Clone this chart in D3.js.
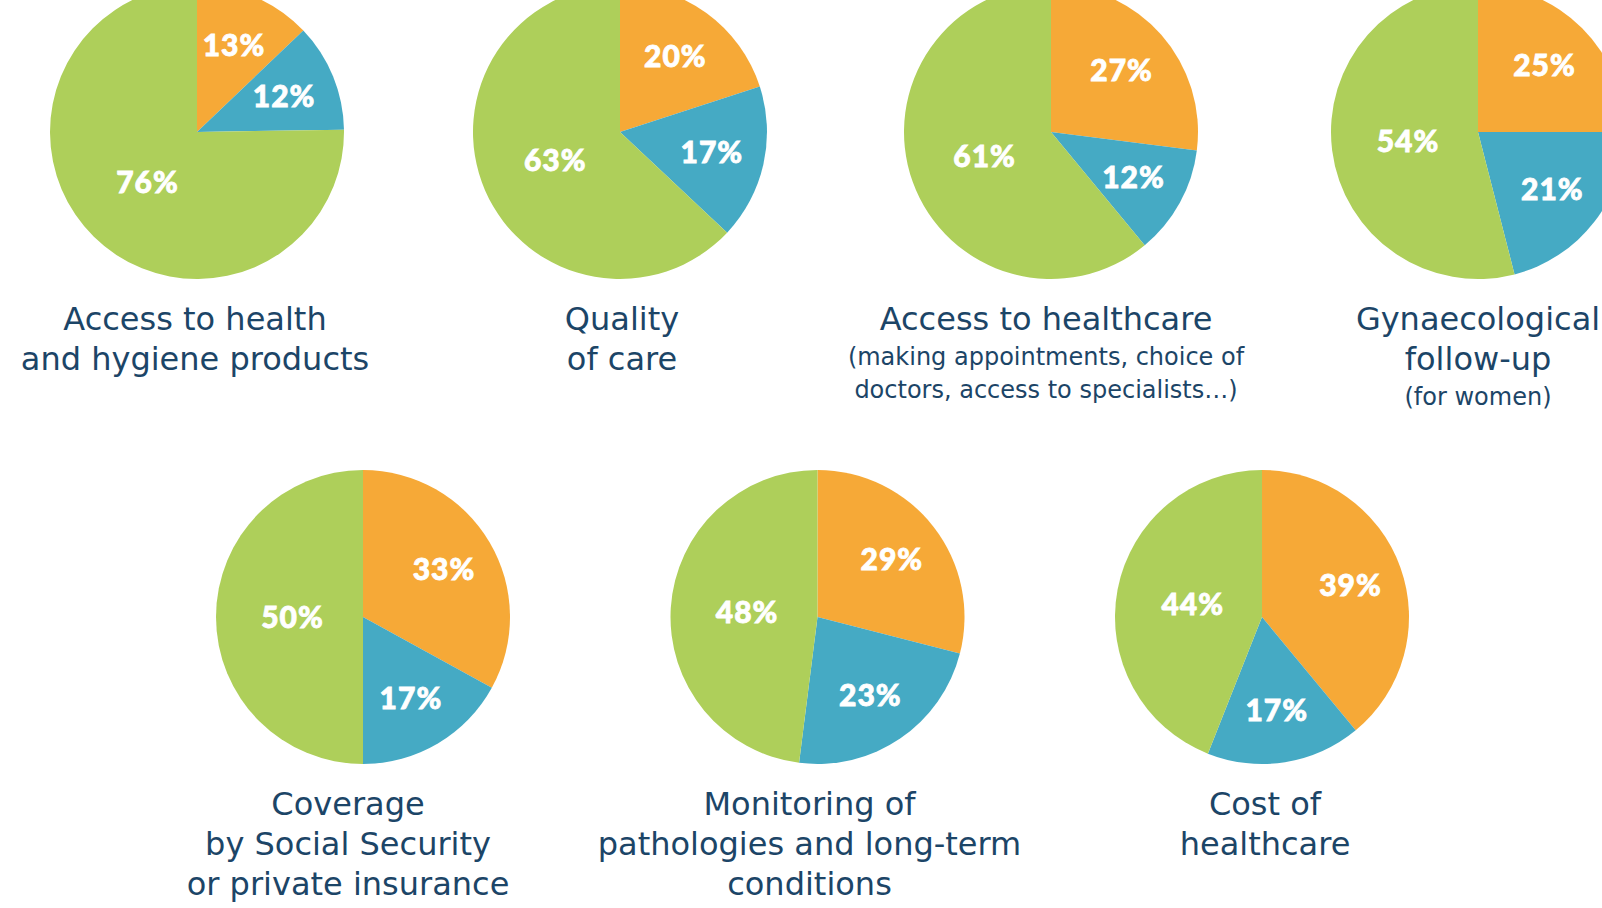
<html>
<head>
    <style>
        body { margin: 0; background: #fff; }
        .label { fill: #fff; stroke: #fff; stroke-width: 0.8px; font-family: Lato, sans-serif; font-weight: 900; font-size: 30px; letter-spacing: 1px; }
        .title { fill: #1c4567; font-family: "DejaVu Sans", sans-serif; font-size: 32px; }
        .sub   { fill: #1c4567; font-family: "DejaVu Sans", sans-serif; font-size: 24px; }
    </style>
    <script src="https://d3js.org/d3.v7.min.js"></script>
</head>
<body>
    <svg width="1602" height="908"></svg>

    <script>
        // data
        var titles = [
            ["Access to health", "and hygiene products"],
            ["Quality", "of care"],
            ["Access to healthcare"],
            ["Gynaecological", "follow-up"],
            ["Coverage", "by Social Security", "or private insurance"],
            ["Monitoring of", "pathologies and long-term", "conditions"],
            ["Cost of", "healthcare"]
        ];
        var subtitles = [
            [], [],
            ["(making appointments, choice of", "doctors, access to specialists…)"],
            ["(for women)"],
            [], [], []
        ];
        var orangeValues = [13, 20, 27, 25, 33, 29, 39];
        var blueValues   = [12, 17, 12, 21, 17, 23, 17];
        var greenValues  = [76, 63, 61, 54, 50, 48, 44];

        var colors = ["#f6a937", "#45aac4", "#aecf5a"];

        var svg = d3.select("svg");
        var r = 147;

        // layout: 4 pies on top row, 3 below
        var xTop = d3.scalePoint().domain([0, 1, 2, 3]).range([197, 1478]);
        var xBottom = d3.scalePoint().domain([4, 5, 6]).range([363, 1266]);
        var titleShift = [-2, 2, -5, 0, -15, -8, 3];
        var pieShift = [0, -4, 0, 0, 0, 3, -4];

        var pie = d3.pie().sort(null).value(function(d){ return d; });
        var arc = d3.arc().innerRadius(0).outerRadius(r);
        var arcSide = d3.arc().innerRadius(r * 0.64).outerRadius(r * 0.64);
        var arcMain = d3.arc().innerRadius(r * 0.48).outerRadius(r * 0.48);

        titles.forEach(function(t, i){
            var cx = (i < 4 ? xTop(i) : xBottom(i)) + pieShift[i];
            var cy = i < 4 ? 132 : 617;
            var vals = [orangeValues[i], blueValues[i], greenValues[i]];

            var g = svg.append("g").attr("transform", "translate(" + cx + "," + cy + ")");

            var slices = pie(vals);
            g.selectAll("path")
             .data(slices)
             .enter().append("path")
             .attr("d", arc)
             .attr("fill", function(d, j){ return colors[j]; });

            g.selectAll(".label")
             .data(slices)
             .enter().append("text")
             .attr("class", "label")
             .attr("transform", function(d, j){
                 var c = (j == 2 ? arcMain : arcSide).centroid(d);
                 return "translate(" + c[0] + "," + c[1] + ")";
             })
             .attr("text-anchor", "middle")
             .attr("dy", "0.36em")
             .text(function(d){ return d.data + "%"; });

            // titles under the pie
            var tx = titleShift[i];
            t.forEach(function(line, k){
                g.append("text")
                 .attr("class", "title")
                 .attr("x", tx)
                 .attr("y", 186 + k * 40)
                 .attr("dy", "0.36em")
                 .attr("text-anchor", "middle")
                 .text(line);
            });
            subtitles[i].forEach(function(line, k){
                g.append("text")
                 .attr("class", "sub")
                 .attr("x", tx)
                 .attr("y", 186 + (t.length - 1) * 40 + 38 + k * 33)
                 .attr("dy", "0.36em")
                 .attr("text-anchor", "middle")
                 .text(line);
            });
        });
    </script>
</body>
</html>
